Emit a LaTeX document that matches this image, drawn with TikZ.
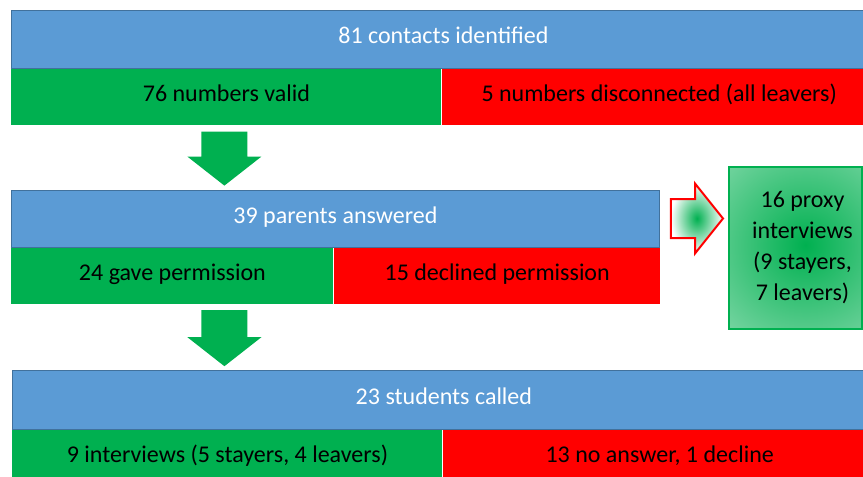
\documentclass[tikz,border=0pt]{standalone}
\usepackage{fontspec}
\setmainfont{Carlito}
\usetikzlibrary{positioning,calc}

\definecolor{barblue}{HTML}{5B9BD5}
\definecolor{bluerim}{HTML}{41719C}
\definecolor{bargreen}{HTML}{00B050}
\definecolor{barred}{HTML}{FF0000}

\tikzset{
  bar/.style={rectangle, inner sep=0pt, font=\fontsize{24}{31}\selectfont},
  barline/.style={bar, text height=15.5pt, text depth=6.5pt},
  bluebar/.style={barline, fill=barblue, draw=bluerim, line width=0.8pt, text=white, minimum height=58pt},
  greenbar/.style={barline, fill=bargreen, minimum height=56pt},
  redbar/.style={barline, fill=barred, minimum height=56pt},
  proxybox/.style={bar, draw=bargreen, line width=2pt, align=center,
    path picture={\shade[inner color=bargreen, outer color=bargreen!12] ($(path picture bounding box.center)+(10,-3)$) circle (220pt);}}
}

\begin{document}
\begin{tikzpicture}[x=1pt, y=-1pt, thick]
\useasboundingbox (0,0) rectangle (863,477);

% contacts
\node[bluebar, minimum width=864pt, anchor=north west] (contacts) at (11,10) {81 contacts identified};
\node[greenbar, minimum width=430pt, below right=0pt and 0pt of contacts.south west] (valid) {76 numbers valid};
\node[redbar, minimum width=434pt, right=0pt of valid] (disconnected) {5 numbers disconnected (all leavers)};

% parents
\node[bluebar, minimum width=648pt, minimum height=57pt, below right=64pt and 0pt of valid.south west] (parents) {39 parents answered};
\node[greenbar, minimum width=322pt, below right=0pt and 0pt of parents.south west] (permission) {24 gave permission};
\node[redbar, minimum width=326pt, right=0pt of permission] (declined) {15 declined permission};

% students
\node[bluebar, minimum width=863pt, minimum height=59pt, below right=66pt and 1pt of permission.south west] (students) {23 students called};
\node[greenbar, minimum width=430pt, below right=0pt and 0pt of students.south west] (interviews) {9 interviews (5 stayers, 4 leavers)};
\node[redbar, minimum width=433pt, right=0pt of interviews] (noanswer) {13 no answer, 1 decline};

\node[proxybox, minimum width=133pt, minimum height=162pt, anchor=north west] (proxy) at (728,166)
  {\hspace*{14pt}16 proxy\\\hspace*{14pt}interviews\\\hspace*{14pt}(9 stayers,\\\hspace*{14pt}7 leavers)};

\foreach \from/\to in {valid/parents, permission/students}
  \fill[bargreen] let \p1=(valid.south |- \from.south), \p2=(valid.south |- \to.north) in
    (\x1-25pt,\y1-6pt) -- (\x1+21pt,\y1-6pt) -- (\x1+21pt,\y2+33pt) -- (\x1+35pt,\y2+33pt)
    -- (\x1-2pt,\y2+4pt) -- (\x1-39pt,\y2+33pt) -- (\x1-25pt,\y2+33pt) -- cycle;

\shadedraw[inner color=bargreen, outer color=white, draw=barred, line width=2pt] let \p1=(parents.east), \p2=(proxy.west |- parents.east) in
  (\x1+11pt,\y1+19.5pt) -- (\x2-33pt,\y1+19.5pt) -- (\x2-33pt,\y1+35pt) -- (\x2-5pt,\y1)
  -- (\x2-33pt,\y1-35pt) -- (\x2-33pt,\y1-19.5pt) -- (\x1+11pt,\y1-19.5pt) -- cycle;

\end{tikzpicture}
\end{document}
